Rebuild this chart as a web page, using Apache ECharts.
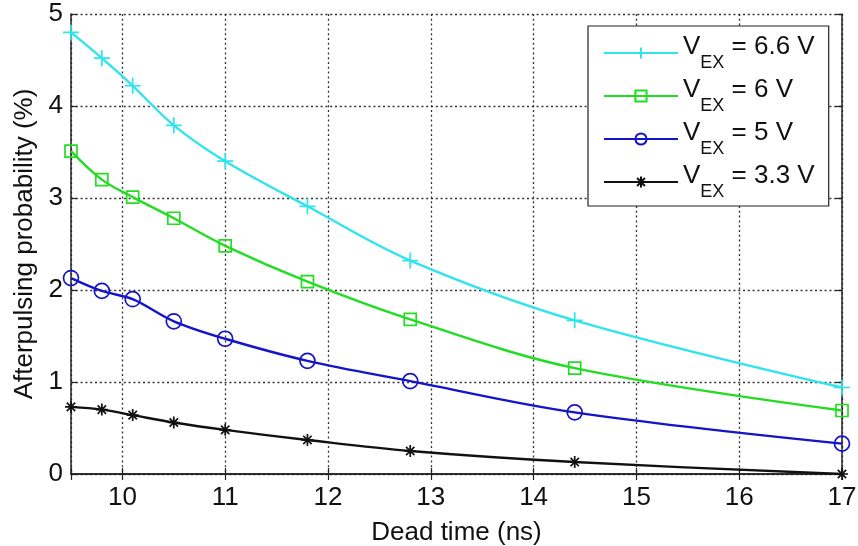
<!DOCTYPE html>
<html>
<head>
<meta charset="utf-8">
<script src="https://cdn.jsdelivr.net/npm/echarts@6/dist/echarts.min.js"></script>
<style>html,body{margin:0;padding:0;background:#fff}#c{width:858px;height:546px}</style>
</head>
<body>
<div id="c"></div>
<script>
// Data
var deadTime = [9.5, 9.8, 10.1, 10.5, 11, 11.8, 12.8, 14.4, 17];
var vex66 = [4.80, 4.52, 4.22, 3.79, 3.40, 2.91, 2.32, 1.67, 0.94];
var vex6  = [3.51, 3.20, 3.01, 2.78, 2.48, 2.09, 1.68, 1.15, 0.69];
var vex5  = [2.13, 1.99, 1.90, 1.66, 1.47, 1.23, 1.01, 0.67, 0.33];
var vex33 = [0.73, 0.70, 0.64, 0.56, 0.48, 0.37, 0.25, 0.13, 0.00];
var seriesNames = ['6.6 V', '6 V', '5 V', '3.3 V'];
var xTickLabels = ['10', '11', '12', '13', '14', '15', '16', '17'];
var yTickLabels = ['0', '1', '2', '3', '4', '5'];

var FONT = '"Liberation Sans", Arial, sans-serif';
var colors = ['#2FE4EC', '#22DD22', '#1414C8', '#111111'];
var symbols = [
  'path://M0,5L10,5M5,0L5,10',
  'rect',
  'circle',
  'path://M0,5L10,5M5,0L5,10M1.5,1.5L8.5,8.5M1.5,8.5L8.5,1.5'
];
var symbolSizes = [16, 12, 15, 12];
var dataSets = [vex66, vex6, vex5, vex33];

function pairs(ys) { return deadTime.map(function (x, i) { return [x, ys[i]]; }); }

var series = dataSets.map(function (ys, k) {
  return {
    name: seriesNames[k],
    type: 'line',
    data: pairs(ys),
    smooth: 0.35,
    clip: false,
    showAllSymbol: true,
    symbol: symbols[k],
    symbolSize: symbolSizes[k],
    lineStyle: { color: colors[k], width: 2.4 },
    itemStyle: { color: 'rgba(0,0,0,0)', borderColor: colors[k], borderWidth: 1.7 },
    emphasis: { disabled: true },
    z: 10 - k
  };
});

var axisLineStyle = { color: '#222', width: 1.5 };
var tickStyle = { show: true, inside: true, length: 6, lineStyle: { color: '#222', width: 1.2 } };
var splitStyle = { show: true, lineStyle: { color: '#333', width: 1.3, type: [2, 2.8] } };

var option = {
  backgroundColor: '#fff',
  animation: false,
  textStyle: { fontFamily: FONT },
  grid: { left: 71, right: 16, top: 14, bottom: 72, containLabel: false, outerBoundsMode: 'none' },
  legend: {
    orient: 'vertical',
    left: 588, top: 26,
    padding: [8, 14, 5, 15],
    itemWidth: 74, itemHeight: 14, itemGap: 5,
    backgroundColor: '#fff',
    borderColor: '#222', borderWidth: 1.2,
    data: seriesNames,
    formatter: function (n) { return '{v|V}{sub|EX}{t| = ' + n + '}'; },
    textStyle: {
      fontFamily: FONT, color: '#111',
      rich: {
        v: { fontSize: 26, fontFamily: FONT, color: '#111', padding: [0, 0, 12, 0] },
        sub: { fontSize: 18, fontFamily: FONT, color: '#111', padding: [20, 0, 0, 0] },
        t: { fontSize: 26, fontFamily: FONT, color: '#111', padding: [0, 0, 12, 0] }
      }
    }
  },
  xAxis: [{
    type: 'value', min: 9.5, max: 17, minInterval: 1, maxInterval: 1,
    position: 'bottom',
    name: 'Dead time (ns)', nameLocation: 'middle', nameGap: 46,
    nameTextStyle: { fontSize: 26, color: '#111', fontFamily: FONT },
    axisLine: { show: true, lineStyle: axisLineStyle },
    axisTick: tickStyle,
    axisLabel: {
      fontSize: 26, color: '#111', fontFamily: FONT, margin: 11,
      formatter: function (v) { var s = String(v); return xTickLabels.indexOf(s) >= 0 ? s : ''; }
    },
    splitLine: splitStyle
  }, {
    type: 'value', min: 9.5, max: 17, minInterval: 1, maxInterval: 1,
    position: 'top',
    axisLine: { show: true, lineStyle: axisLineStyle },
    axisTick: tickStyle,
    axisLabel: { show: false },
    splitLine: { show: false }
  }],
  yAxis: [{
    type: 'value', min: 0, max: 5, interval: 1,
    position: 'left',
    name: 'Afterpulsing probability (%)', nameLocation: 'middle', nameGap: 33,
    nameTextStyle: { fontSize: 26, color: '#111', fontFamily: FONT },
    axisLine: { show: true, lineStyle: axisLineStyle },
    axisTick: tickStyle,
    axisLabel: {
      fontSize: 26, color: '#111', fontFamily: FONT, margin: 8,
      formatter: function (v) { var s = String(v); return yTickLabels.indexOf(s) >= 0 ? s : ''; }
    },
    splitLine: splitStyle
  }, {
    type: 'value', min: 0, max: 5, interval: 1,
    position: 'right',
    axisLine: { show: true, lineStyle: axisLineStyle },
    axisTick: tickStyle,
    axisLabel: { show: false },
    splitLine: { show: false }
  }],
  series: series
};

var chart = echarts.init(document.getElementById('c'), null, { renderer: 'canvas' });
chart.setOption(option);
</script>
</body>
</html>
